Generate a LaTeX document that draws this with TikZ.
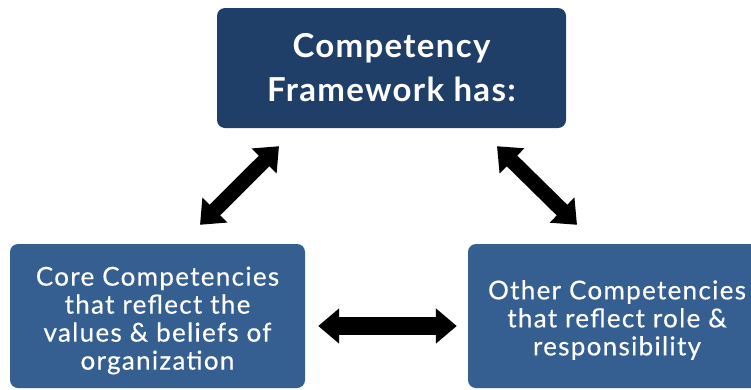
\documentclass[tikz,border=0pt]{standalone}
\usepackage{fontspec}
\setmainfont{Lato}
\newfontfamily\headfont[LetterSpace=4]{Lato}
\newfontfamily\bodyfont[LetterSpace=5,FakeBold=0.4]{Lato}
\usetikzlibrary{arrows.meta,calc}
\definecolor{navy}{HTML}{1F3F68}
\definecolor{steel}{HTML}{365F91}

\begin{document}
\begin{tikzpicture}[x=1pt,y=-1pt,
  box/.style={fill=steel,rounded corners=8pt,inner sep=0pt},
  boxtext/.style={text=white,align=center,inner sep=0pt,
    font=\bodyfont\fontsize{26}{28}\selectfont},
  bigarrow/.style={line width=#1,
    {Triangle[length=21pt,width=34pt]}-{Triangle[length=21pt,width=34pt]}}]

\useasboundingbox (0,0) rectangle (751,389);
\clip (0,0) rectangle (751,389);

\begin{scope}
\node[box,fill=navy,minimum width=349pt,minimum height=120pt,
  text=white,align=center,font=\headfont\bfseries\fontsize{33}{44}\selectfont]
  (frame) at (391.5,68) {Competency\\Framework has:};
\node[box,minimum width=295pt,minimum height=144pt] (core) at (157.5,316) {};
\node[box,minimum width=296pt,minimum height=144pt] (other) at (616,316) {};
\node[boxtext] (coretext) at ($(core.center)+(0,4.5)$) {Core Competencies\\that reflect the\\values \& beliefs of\\organization};
\node[boxtext] (othertext) at ($(other.center)+(1,4)$) {Other Competencies\\that reflect role \&\\responsibility};

\coordinate (a) at ($(core.north)+(42.5,-19)$);
\coordinate (b) at ($(frame.south)+(-112.5,18)$);
\coordinate (c) at ($(frame.south)+(105.5,18)$);
\coordinate (d) at ($(other.north)+(-39,-19)$);
\coordinate (e) at ($(core.east)+(13,10)$);
\coordinate (f) at ($(other.west)+(-11,10)$);

\draw[bigarrow=15pt] (a) -- (b);
\draw[bigarrow=15pt] (c) -- (d);
\draw[bigarrow=18pt] (e) -- (f);
\end{scope}

\end{tikzpicture}
\end{document}
